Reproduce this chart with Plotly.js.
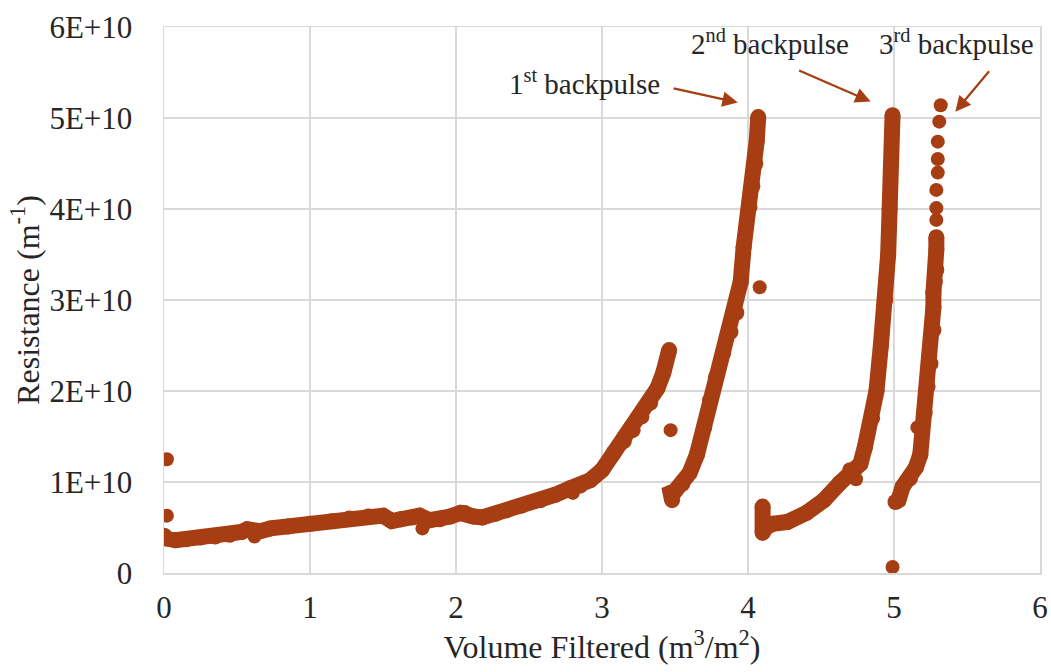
<!DOCTYPE html>
<html>
<head>
<meta charset="utf-8">
<script src="https://cdn.plot.ly/plotly-3.0.1.min.js"></script>
<style>html,body{margin:0;padding:0;background:#fff;}#chart{width:1051px;height:672px;}</style>
</head>
<body>
<div id="chart"></div>
<script>
// Volume filtered (m3/m2) and resistance (m^-1)
var seg1X = [0.00, 0.02, 0.08, 0.15, 0.25, 0.35, 0.45, 0.53, 0.57, 0.66, 0.73, 0.85, 1.00, 1.15, 1.27, 1.40, 1.50, 1.56, 1.62, 1.70, 1.75, 1.82, 1.89, 1.96, 2.03, 2.06, 2.12, 2.18, 2.27, 2.35, 2.45, 2.58, 2.68, 2.78, 2.85, 2.92, 3.00, 3.08, 3.15, 3.21, 3.27, 3.33, 3.38, 3.42, 3.46];
var seg1Y = [4.1e9, 3.8e9, 3.6e9, 3.7e9, 3.9e9, 4.0e9, 4.2e9, 4.5e9, 4.8e9, 4.6e9, 4.9e9, 5.1e9, 5.4e9, 5.7e9, 6.0e9, 6.2e9, 6.3e9, 5.7e9, 5.9e9, 6.1e9, 6.3e9, 5.8e9, 5.9e9, 6.2e9, 6.6e9, 6.6e9, 6.2e9, 6.1e9, 6.5e9, 6.9e9, 7.4e9, 8.0e9, 8.6e9, 9.3e9, 9.6e9, 10.2e9, 11.3e9, 13.2e9, 14.5e9, 15.7e9, 17.2e9, 18.7e9, 20.3e9, 22.0e9, 24.5e9];

var seg2X = [3.48, 3.47, 3.50, 3.55, 3.60, 3.65, 3.70, 3.74, 3.78, 3.83, 3.88, 3.92, 3.95, 3.97, 4.01, 4.03, 4.05, 4.06, 4.07];
var seg2Y = [8.0e9, 8.8e9, 9.0e9, 9.8e9, 11.0e9, 13.0e9, 16.0e9, 19.0e9, 21.5e9, 24.2e9, 26.5e9, 28.6e9, 32.0e9, 35.8e9, 40.2e9, 42.5e9, 45.0e9, 47.5e9, 50.1e9];

var seg3X = [4.10, 4.10, 4.12, 4.17, 4.27, 4.40, 4.52, 4.63, 4.70, 4.77, 4.80, 4.85, 4.88, 4.91, 4.94, 4.96, 4.97, 4.98, 4.99];
var seg3Y = [7.3e9, 4.4e9, 5.0e9, 5.4e9, 5.6e9, 6.6e9, 8.0e9, 9.9e9, 11.3e9, 12.0e9, 13.8e9, 17.0e9, 20.0e9, 25.0e9, 30.0e9, 35.0e9, 40.0e9, 45.0e9, 50.3e9];

var seg4X = [5.01, 5.03, 5.06, 5.11, 5.15, 5.18, 5.21, 5.23, 5.25, 5.27, 5.27, 5.27, 5.28, 5.29, 5.29, 5.29];
var seg4Y = [7.8e9, 8.0e9, 9.5e9, 10.4e9, 11.6e9, 13.0e9, 17.6e9, 20.5e9, 23.0e9, 26.7e9, 29.2e9, 30.8e9, 32.0e9, 33.3e9, 35.5e9, 36.9e9];

var dots4X = [5.29, 5.29, 5.29, 5.30, 5.30, 5.30, 5.31, 5.32];
var dots4Y = [38.8e9, 40.1e9, 42.1e9, 44.0e9, 45.5e9, 47.4e9, 49.6e9, 51.4e9];

var outX = [0.02, 0.02, 0.62, 1.77, 2.80, 3.47, 4.08, 4.74, 4.99, 5.16];
var outY = [12.5e9, 6.3e9, 4.0e9, 4.9e9, 8.8e9, 15.7e9, 31.4e9, 10.3e9, 0.66e9, 16.0e9];

var yTickVals = [0, 1e10, 2e10, 3e10, 4e10, 5e10, 6e10];
var yTickText = ['0', '1E+10', '2E+10', '3E+10', '4E+10', '5E+10', '6E+10'];
var xTickVals = [0, 1, 2, 3, 4, 5, 6];

var labels = ['1<sup>st</sup> backpulse', '2<sup>nd</sup> backpulse', '3<sup>rd</sup> backpulse'];
var labelX = [2.88, 4.15, 5.43];
var labelY = [54.0e9, 58.4e9, 58.4e9];
var arrowFromX = [3.48, 4.34, 5.66];
var arrowFromY = [53.3e9, 55.3e9, 55.3e9];
var arrowToX = [3.93, 4.84, 5.42];
var arrowToY = [51.7e9, 51.8e9, 50.7e9];

var C = '#A73D12';
var FONT = "'Liberation Serif', 'Times New Roman', serif";
var TXT = '#262626';

function band(x, y) {
  return {x: x, y: y, type: 'scatter', mode: 'lines+markers', showlegend: false,
    line: {color: C, width: 16}, marker: {color: C, size: 16}, hoverinfo: 'x+y'};
}
function pts(x, y) {
  return {x: x, y: y, type: 'scatter', mode: 'markers', showlegend: false,
    marker: {color: C, size: 14}, hoverinfo: 'x+y'};
}

var data = [band(seg1X, seg1Y), band(seg2X, seg2Y), band(seg3X, seg3Y), band(seg4X, seg4Y),
  pts(dots4X, dots4Y), pts(outX, outY)];

var annotations = [];
for (var i = 0; i < labels.length; i++) {
  annotations.push({x: labelX[i], y: labelY[i], xref: 'x', yref: 'y', text: labels[i],
    showarrow: false, font: {family: FONT, size: 29, color: TXT}});
  annotations.push({x: arrowToX[i], y: arrowToY[i], xref: 'x', yref: 'y',
    ax: arrowFromX[i], ay: arrowFromY[i], axref: 'x', ayref: 'y', text: '',
    showarrow: true, arrowhead: 2, arrowsize: 1.4, arrowwidth: 2.2, arrowcolor: C});
}

var grid = '#d9d9d9';
var layout = {
  width: 1051, height: 672,
  margin: {l: 164, r: 11, t: 27, b: 99},
  paper_bgcolor: '#fff', plot_bgcolor: '#fff',
  font: {family: FONT, size: 31, color: TXT},
  xaxis: {range: [0, 6], tickvals: xTickVals, showgrid: true, gridcolor: grid, gridwidth: 1.5,
    zeroline: false, showline: true, linecolor: grid, linewidth: 1.5, mirror: true, ticks: '',
    tickfont: {family: FONT, size: 31, color: TXT}, ticklabelstandoff: 6,
    title: {text: 'Volume Filtered (m<sup>3</sup>/m<sup>2</sup>)', font: {family: FONT, size: 32, color: TXT}, standoff: 6}},
  yaxis: {range: [0, 6e10], tickvals: yTickVals, ticktext: yTickText, showgrid: true, gridcolor: grid, gridwidth: 1.5,
    zeroline: false, showline: true, linecolor: grid, linewidth: 1.5, mirror: true, ticks: '',
    tickfont: {family: FONT, size: 31, color: TXT}, ticklabelstandoff: 24,
    title: {text: 'Resistance (m<sup>-1</sup>)', font: {family: FONT, size: 32, color: TXT}, standoff: 0}},
  annotations: annotations
};

Plotly.newPlot('chart', data, layout, {displayModeBar: false, staticPlot: true});
</script>
</body>
</html>
